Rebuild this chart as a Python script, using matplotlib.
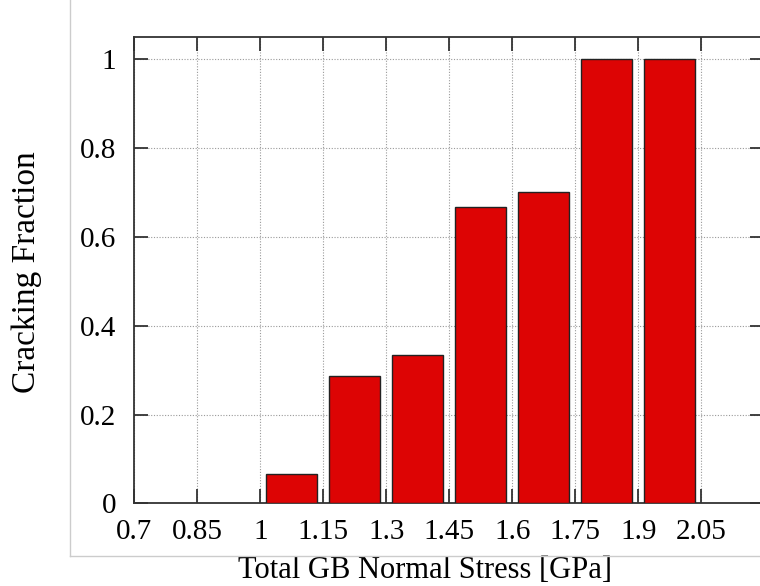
import matplotlib
matplotlib.use('Agg')
import matplotlib.pyplot as plt
from matplotlib.lines import Line2D

plt.rcParams['font.family'] = ['Liberation Serif', 'DejaVu Serif']

# stress bins (GPa) and fraction of boundaries that cracked in each
stress_mid = [1.075, 1.225, 1.375, 1.525, 1.675, 1.825, 1.975]
crack_frac = [0.067, 0.286, 0.333, 0.667, 0.7, 1.0, 1.0]
xtick_vals = [0.7, 0.85, 1.0, 1.15, 1.3, 1.45, 1.6, 1.75, 1.9, 2.05]
xtick_labels = ['0.7', '0.85', '1', '1.15', '1.3', '1.45', '1.6', '1.75', '1.9', '2.05']
ytick_vals = [0, 0.2, 0.4, 0.6, 0.8, 1.0]
ytick_labels = ['0', '0.2', '0.4', '0.6', '0.8', '1']

fig = plt.figure(figsize=(7.6, 5.86), dpi=100)
ax = fig.add_axes([0.1767, 0.1408, 0.829, 0.7966])

ax.bar(stress_mid, crack_frac, width=0.121, color='#dd0404',
       edgecolor='#222222', linewidth=1.0, zorder=3)

ax.set_xlim(0.7, 2.2)
ax.set_ylim(0, 1.05)
ax.set_xticks(xtick_vals)
ax.set_xticklabels(xtick_labels)
ax.set_yticks(ytick_vals)
ax.set_yticklabels(ytick_labels)

ax.grid(True, linestyle=(0, (1, 1.5)), color='#9a9a9a', linewidth=0.8, zorder=0)
ax.set_axisbelow(True)

ax.tick_params(direction='in', length=10, width=1.3, color='#333333',
               top=True, right=True, labelsize=21)
ax.tick_params(axis='x', pad=11)
ax.tick_params(axis='y', pad=13)
for s in ax.spines.values():
    s.set_linewidth(1.3)
    s.set_color('#333333')

ax.set_xlabel('Total GB Normal Stress [GPa]', fontsize=22)
ax.xaxis.set_label_coords((425 - 134.3) / 630.0, (503.5 - 556.5) / 466.8)
ax.set_ylabel('Cracking Fraction', fontsize=24, va='center')
ax.yaxis.set_label_coords((27 - 134.3) / 630.0, (503.5 - 272) / 466.8)

# light frame around the plot
fig.add_artist(Line2D([69.5 / 760, 69.5 / 760], [1.0, 1 - 556 / 586.0],
                      transform=fig.transFigure, color='#cccccc', lw=1))
fig.add_artist(Line2D([69.5 / 760, 1.0], [1 - 556 / 586.0, 1 - 556 / 586.0],
                      transform=fig.transFigure, color='#cccccc', lw=1))

plt.savefig('out.png', dpi=100)
